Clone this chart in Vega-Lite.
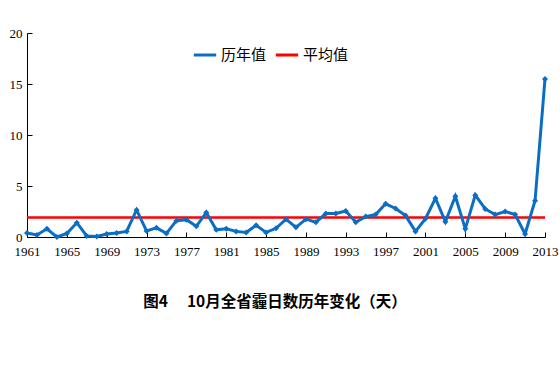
{
  "$schema": "https://vega.github.io/schema/vega-lite/v6.json",
  "width": 518,
  "height": 204,
  "autosize": {"type": "none"},
  "padding": {"left": 27, "top": 33, "right": 15, "bottom": 133},
  "background": "white",
  "config": {
    "view": {"stroke": null},
    "axis": {"grid": false, "domainColor": "black", "tickColor": "black", "labelColor": "black", "labelFont": "Liberation Serif", "labelFontSize": 13, "titleFont": "Liberation Serif"}
  },
  "title": {
    "text": "图4\u2003 10月全省霾日数历年变化（天）",
    "orient": "bottom",
    "anchor": "middle",
    "font": "Noto Sans CJK SC",
    "fontSize": 15.5,
    "fontWeight": "bold",
    "color": "black",
    "offset": 37,
    "dx": -11
  },
  "datasets": {
    "yearly": [
      {"year": 1961, "value": 0.4, "series": "历年值"},
      {"year": 1962, "value": 0.2, "series": "历年值"},
      {"year": 1963, "value": 0.8, "series": "历年值"},
      {"year": 1964, "value": 0.0, "series": "历年值"},
      {"year": 1965, "value": 0.35, "series": "历年值"},
      {"year": 1966, "value": 1.4, "series": "历年值"},
      {"year": 1967, "value": 0.1, "series": "历年值"},
      {"year": 1968, "value": 0.05, "series": "历年值"},
      {"year": 1969, "value": 0.3, "series": "历年值"},
      {"year": 1970, "value": 0.4, "series": "历年值"},
      {"year": 1971, "value": 0.55, "series": "历年值"},
      {"year": 1972, "value": 2.65, "series": "历年值"},
      {"year": 1973, "value": 0.6, "series": "历年值"},
      {"year": 1974, "value": 0.9, "series": "历年值"},
      {"year": 1975, "value": 0.35, "series": "历年值"},
      {"year": 1976, "value": 1.6, "series": "历年值"},
      {"year": 1977, "value": 1.7, "series": "历年值"},
      {"year": 1978, "value": 1.05, "series": "历年值"},
      {"year": 1979, "value": 2.4, "series": "历年值"},
      {"year": 1980, "value": 0.7, "series": "历年值"},
      {"year": 1981, "value": 0.8, "series": "历年值"},
      {"year": 1982, "value": 0.55, "series": "历年值"},
      {"year": 1983, "value": 0.45, "series": "历年值"},
      {"year": 1984, "value": 1.15, "series": "历年值"},
      {"year": 1985, "value": 0.45, "series": "历年值"},
      {"year": 1986, "value": 0.85, "series": "历年值"},
      {"year": 1987, "value": 1.75, "series": "历年值"},
      {"year": 1988, "value": 0.95, "series": "历年值"},
      {"year": 1989, "value": 1.75, "series": "历年值"},
      {"year": 1990, "value": 1.45, "series": "历年值"},
      {"year": 1991, "value": 2.3, "series": "历年值"},
      {"year": 1992, "value": 2.3, "series": "历年值"},
      {"year": 1993, "value": 2.55, "series": "历年值"},
      {"year": 1994, "value": 1.45, "series": "历年值"},
      {"year": 1995, "value": 2.0, "series": "历年值"},
      {"year": 1996, "value": 2.2, "series": "历年值"},
      {"year": 1997, "value": 3.25, "series": "历年值"},
      {"year": 1998, "value": 2.8, "series": "历年值"},
      {"year": 1999, "value": 2.1, "series": "历年值"},
      {"year": 2000, "value": 0.55, "series": "历年值"},
      {"year": 2001, "value": 1.8, "series": "历年值"},
      {"year": 2002, "value": 3.8, "series": "历年值"},
      {"year": 2003, "value": 1.5, "series": "历年值"},
      {"year": 2004, "value": 4.0, "series": "历年值"},
      {"year": 2005, "value": 0.8, "series": "历年值"},
      {"year": 2006, "value": 4.1, "series": "历年值"},
      {"year": 2007, "value": 2.75, "series": "历年值"},
      {"year": 2008, "value": 2.2, "series": "历年值"},
      {"year": 2009, "value": 2.5, "series": "历年值"},
      {"year": 2010, "value": 2.2, "series": "历年值"},
      {"year": 2011, "value": 0.3, "series": "历年值"},
      {"year": 2012, "value": 3.55, "series": "历年值"},
      {"year": 2013, "value": 15.5, "series": "历年值"}
    ],
    "average": [
      {"value": 1.9, "series": "平均值"}
    ]
  },
  "layer": [
    {
      "data": {"name": "average"},
      "mark": {"type": "rule", "strokeWidth": 2.5},
      "encoding": {
        "y": {"field": "value", "type": "quantitative", "scale": {"domain": [0, 20]}},
        "color": {"field": "series", "type": "nominal"}
      }
    },
    {
      "data": {"name": "yearly"},
      "mark": {"type": "line", "strokeWidth": 3, "point": {"shape": "diamond", "size": 36, "filled": true}},
      "encoding": {
        "x": {
          "field": "year", "type": "quantitative",
          "scale": {"domain": [1961, 2013], "nice": false, "zero": false},
          "axis": {"title": null, "values": [1961,1965,1969,1973,1977,1981,1985,1989,1993,1997,2001,2005,2009,2013], "format": "d", "tickSize": -5, "labelPadding": 13, "labelFlush": false, "labelOverlap": false}
        },
        "y": {
          "field": "value", "type": "quantitative",
          "scale": {"domain": [0, 20], "nice": false},
          "axis": {"title": null, "values": [0, 5, 10, 15, 20], "tickSize": -5, "labelPadding": 10}
        },
        "color": {
          "field": "series", "type": "nominal",
          "scale": {"domain": ["历年值", "平均值"], "range": ["#0A6EC4", "#FF0000"]},
          "legend": {
            "title": null, "orient": "none", "legendX": 165, "legendY": 9, "direction": "horizontal",
            "symbolType": "stroke", "symbolStrokeWidth": 3, "symbolSize": 500,
            "labelFont": "Noto Sans CJK SC", "labelFontSize": 15, "labelColor": "black",
            "columnPadding": 2, "labelOffset": 3
          }
        }
      }
    }
  ]
}
